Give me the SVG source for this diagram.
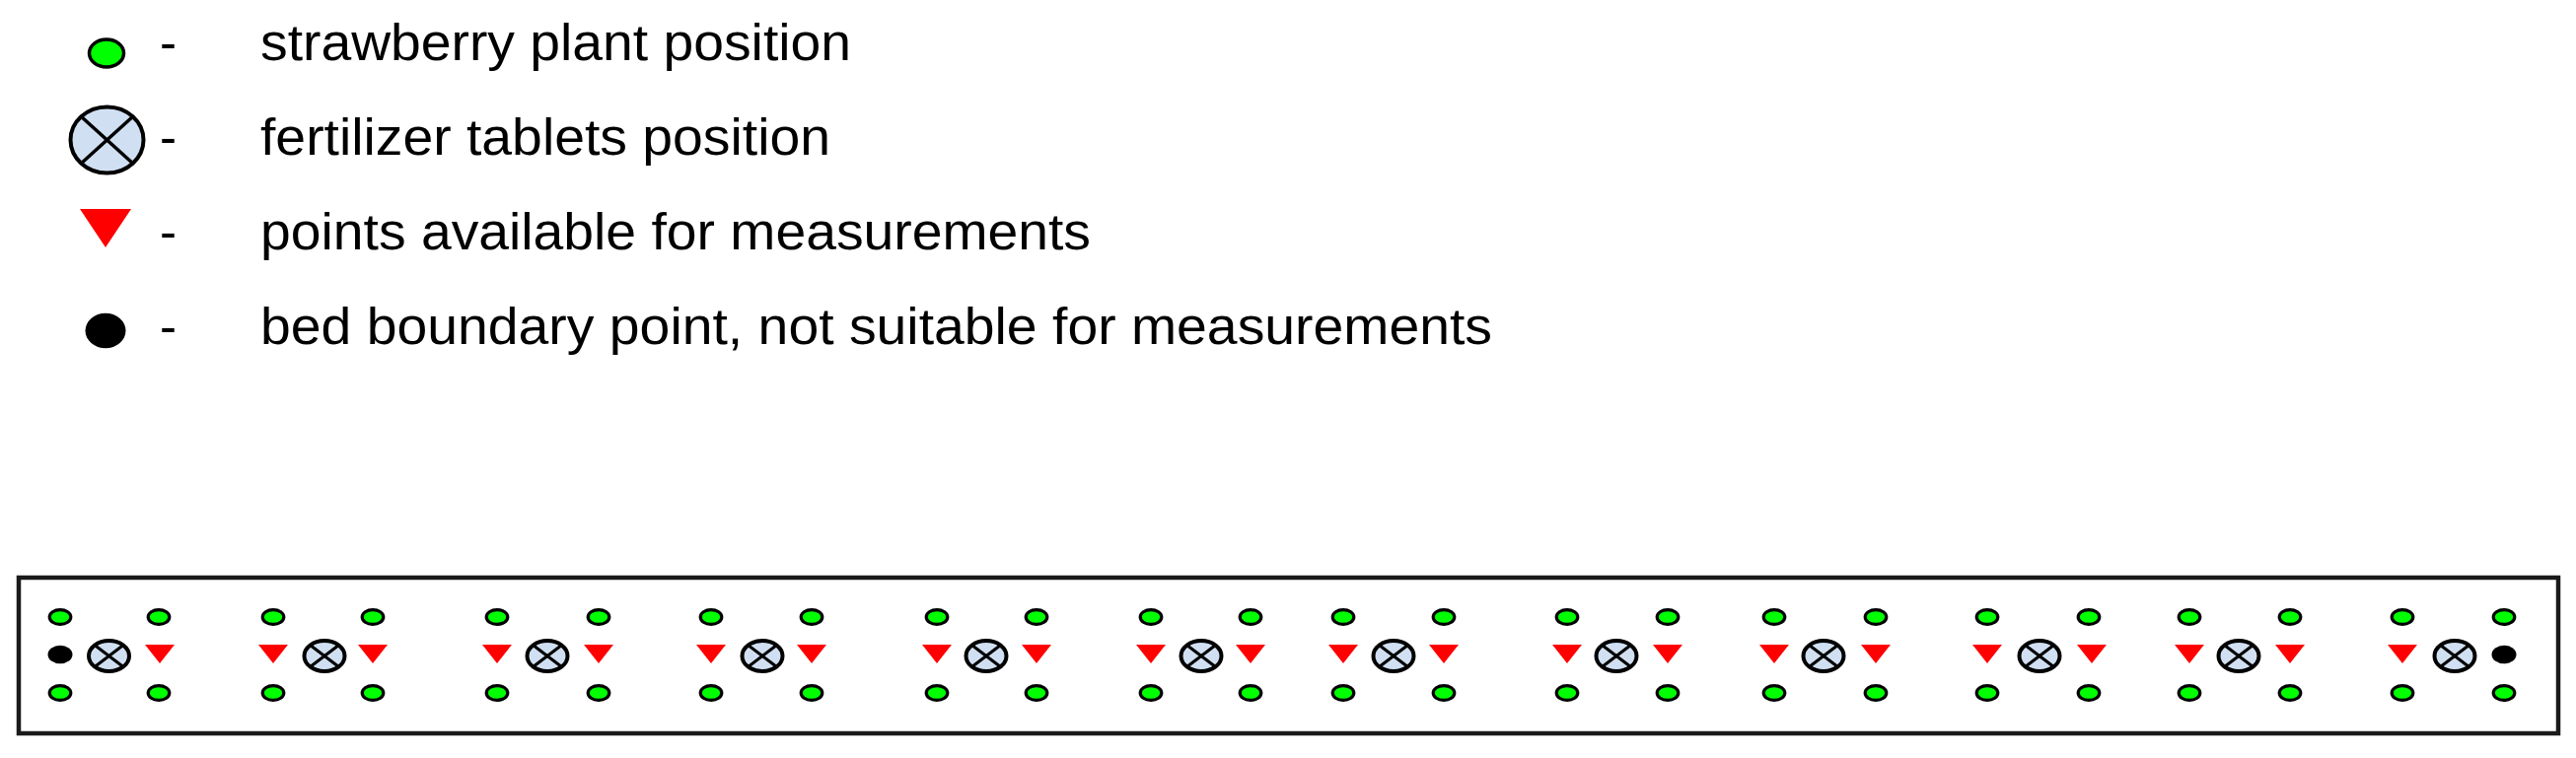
<svg xmlns="http://www.w3.org/2000/svg" xmlns:xlink="http://www.w3.org/1999/xlink" width="2612" height="769" viewBox="0 0 2612 769">
<style>
.lbl{font-family:"Liberation Sans",Arial,sans-serif;font-size:51px;fill:#000}
.plant{fill:#00ff00;stroke:#000;stroke-width:3.2}
.fert{fill:#d0e0f2;stroke:#000;stroke-width:4}
.xl{stroke:#000;stroke-width:3}
.meas{fill:#ff0000}
.bound{fill:#000}
.bed{fill:#fff;stroke:#1a1a1a;stroke-width:4.5}
</style>
<defs>
<g id="p"><ellipse class="plant" cx="0" cy="0" rx="10.8" ry="7.4"/></g>
<g id="f"><ellipse class="fert" cx="0" cy="0" rx="20.5" ry="15.5"/><line class="xl" x1="-14.5" y1="-11" x2="14.5" y2="11"/><line class="xl" x1="-14.5" y1="11" x2="14.5" y2="-11"/></g>
<g id="t"><polygon class="meas" points="-15,-11 15,-11 0,8"/></g>
<g id="b"><ellipse class="bound" cx="0" cy="0" rx="12.5" ry="9.3"/></g>
</defs>
<rect width="2612" height="769" fill="#fff"/>
<g id="legend">
<g id="legend-plant">
<ellipse class="plant" cx="108" cy="54" rx="17.5" ry="14" style="stroke-width:3.5"/>
<text class="lbl" x="162" y="61">-</text>
<text class="lbl" x="264" y="61" textLength="599" lengthAdjust="spacingAndGlyphs">strawberry plant position</text>
</g>
<g id="legend-fert">
<ellipse class="fert" cx="108.5" cy="142" rx="37" ry="33.5"/>
<line class="xl" x1="82.3" y1="118.3" x2="134.7" y2="165.7" style="stroke-width:3.5"/>
<line class="xl" x1="82.3" y1="165.7" x2="134.7" y2="118.3" style="stroke-width:3.5"/>
<text class="lbl" x="162" y="157">-</text>
<text class="lbl" x="264" y="157" textLength="578" lengthAdjust="spacingAndGlyphs">fertilizer tablets position</text>
</g>
<g id="legend-meas">
<polygon class="meas" points="81,212 133,212 107,251"/>
<text class="lbl" x="162" y="253">-</text>
<text class="lbl" x="264" y="253" textLength="842" lengthAdjust="spacingAndGlyphs">points available for measurements</text>
</g>
<g id="legend-bound">
<ellipse class="bound" cx="107" cy="335.5" rx="20.5" ry="17.8"/>
<text class="lbl" x="162" y="349">-</text>
<text class="lbl" x="264" y="349" textLength="1249" lengthAdjust="spacingAndGlyphs">bed boundary point, not suitable for measurements</text>
</g>
</g>
<g id="bed">
<rect class="bed" x="19" y="586" width="2575" height="158"/>
<g id="g1"><use xlink:href="#p" x="61" y="626"/><use xlink:href="#b" x="61" y="664"/><use xlink:href="#p" x="61" y="703"/><use xlink:href="#f" x="110.5" y="665.5"/><use xlink:href="#p" x="161" y="626"/><use xlink:href="#t" x="162" y="665"/><use xlink:href="#p" x="161" y="703"/></g>
<g id="g2"><use xlink:href="#p" x="277" y="626"/><use xlink:href="#t" x="277" y="665"/><use xlink:href="#p" x="277" y="703"/><use xlink:href="#f" x="329" y="665.5"/><use xlink:href="#p" x="378" y="626"/><use xlink:href="#t" x="378" y="665"/><use xlink:href="#p" x="378" y="703"/></g>
<g id="g3"><use xlink:href="#p" x="504" y="626"/><use xlink:href="#t" x="504" y="665"/><use xlink:href="#p" x="504" y="703"/><use xlink:href="#f" x="555" y="665.5"/><use xlink:href="#p" x="607" y="626"/><use xlink:href="#t" x="607" y="665"/><use xlink:href="#p" x="607" y="703"/></g>
<g id="g4"><use xlink:href="#p" x="721" y="626"/><use xlink:href="#t" x="721" y="665"/><use xlink:href="#p" x="721" y="703"/><use xlink:href="#f" x="773" y="665.5"/><use xlink:href="#p" x="823" y="626"/><use xlink:href="#t" x="823" y="665"/><use xlink:href="#p" x="823" y="703"/></g>
<g id="g5"><use xlink:href="#p" x="950" y="626"/><use xlink:href="#t" x="950" y="665"/><use xlink:href="#p" x="950" y="703"/><use xlink:href="#f" x="1000" y="665.5"/><use xlink:href="#p" x="1051" y="626"/><use xlink:href="#t" x="1051" y="665"/><use xlink:href="#p" x="1051" y="703"/></g>
<g id="g6"><use xlink:href="#p" x="1167" y="626"/><use xlink:href="#t" x="1167" y="665"/><use xlink:href="#p" x="1167" y="703"/><use xlink:href="#f" x="1218" y="665.5"/><use xlink:href="#p" x="1268" y="626"/><use xlink:href="#t" x="1268" y="665"/><use xlink:href="#p" x="1268" y="703"/></g>
<g id="g7"><use xlink:href="#p" x="1362" y="626"/><use xlink:href="#t" x="1362" y="665"/><use xlink:href="#p" x="1362" y="703"/><use xlink:href="#f" x="1413" y="665.5"/><use xlink:href="#p" x="1464" y="626"/><use xlink:href="#t" x="1464" y="665"/><use xlink:href="#p" x="1464" y="703"/></g>
<g id="g8"><use xlink:href="#p" x="1589" y="626"/><use xlink:href="#t" x="1589" y="665"/><use xlink:href="#p" x="1589" y="703"/><use xlink:href="#f" x="1639" y="665.5"/><use xlink:href="#p" x="1691" y="626"/><use xlink:href="#t" x="1691" y="665"/><use xlink:href="#p" x="1691" y="703"/></g>
<g id="g9"><use xlink:href="#p" x="1799" y="626"/><use xlink:href="#t" x="1799" y="665"/><use xlink:href="#p" x="1799" y="703"/><use xlink:href="#f" x="1849" y="665.5"/><use xlink:href="#p" x="1902" y="626"/><use xlink:href="#t" x="1902" y="665"/><use xlink:href="#p" x="1902" y="703"/></g>
<g id="g10"><use xlink:href="#p" x="2015" y="626"/><use xlink:href="#t" x="2015" y="665"/><use xlink:href="#p" x="2015" y="703"/><use xlink:href="#f" x="2068" y="665.5"/><use xlink:href="#p" x="2118" y="626"/><use xlink:href="#t" x="2121" y="665"/><use xlink:href="#p" x="2118" y="703"/></g>
<g id="g11"><use xlink:href="#p" x="2220" y="626"/><use xlink:href="#t" x="2220" y="665"/><use xlink:href="#p" x="2220" y="703"/><use xlink:href="#f" x="2270" y="665.5"/><use xlink:href="#p" x="2322" y="626"/><use xlink:href="#t" x="2322" y="665"/><use xlink:href="#p" x="2322" y="703"/></g>
<g id="g12"><use xlink:href="#p" x="2436" y="626"/><use xlink:href="#t" x="2436" y="665"/><use xlink:href="#p" x="2436" y="703"/><use xlink:href="#f" x="2489" y="665.5"/><use xlink:href="#p" x="2539" y="626"/><use xlink:href="#b" x="2539" y="664"/><use xlink:href="#p" x="2539" y="703"/></g>
</g>
</svg>
